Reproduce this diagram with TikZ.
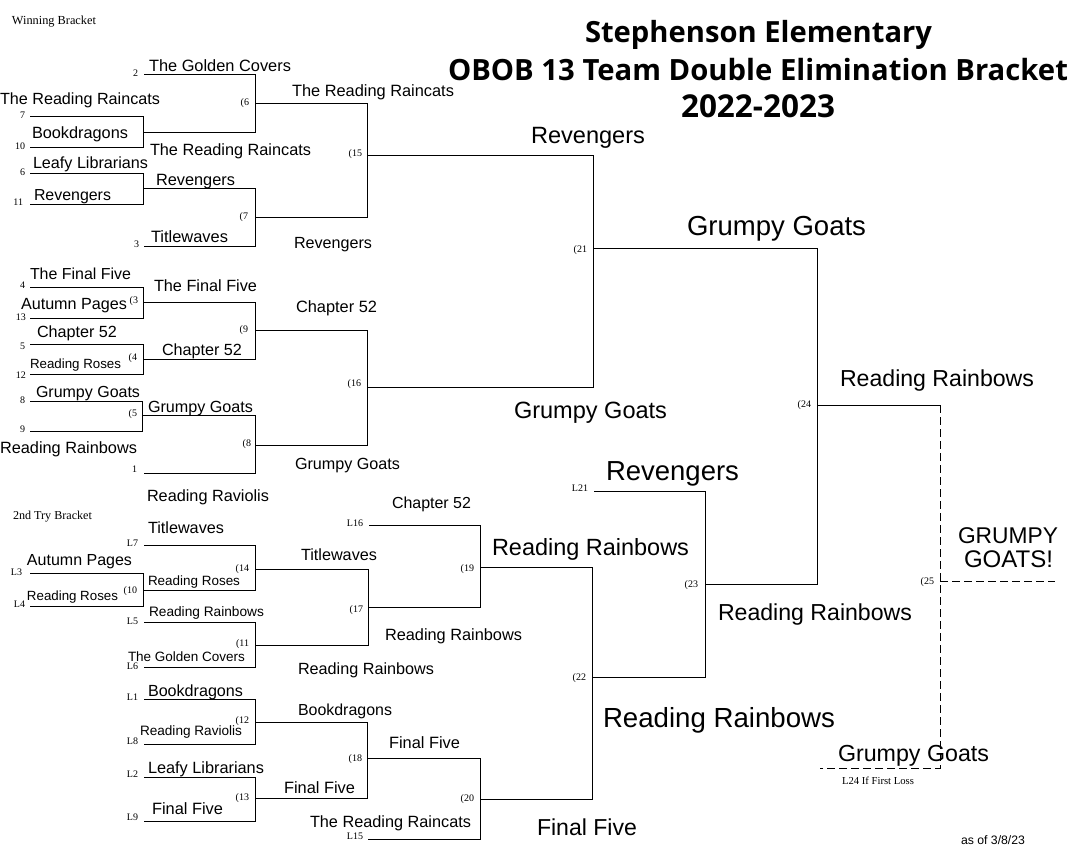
\documentclass[tikz,border=0pt]{standalone}
\usepackage{fontspec}
\setmainfont{Liberation Sans}
\newfontfamily\smallserif{Liberation Serif}
\newfontfamily\titlefam{Open Sans}
\newbox\lblbox
\newcounter{lblc}
\tikzset{
  wire/.style={line width=1pt,draw=black,line join=miter},
  dashwire/.style={line width=1pt,draw=black,dash pattern=on 8pt off 4pt},
  lab/.style={inner sep=0pt,outer sep=0pt,anchor=base west,text=black},
  seedlab/.style={inner sep=0pt,outer sep=0pt,anchor=base east,text=black,font=\smallserif\fontsize{10}{11}\selectfont},
}
% fitted label: [family]{left x}{right x}{baseline y}{text}
\newcommand\lbl[5][]{%
  \stepcounter{lblc}%
  \node[lab] (t\thelblc) at (#2,#4) {%
    \setbox\lblbox=\hbox{#1\fontsize{10}{12}\selectfont #5}%
    \pgfmathsetmacro\lblfs{10*(#3-#2)/\the\wd\lblbox}%
    #1\fontsize{\lblfs}{\lblfs}\selectfont #5};%
}
\newcommand\seed[3]{%
  \stepcounter{lblc}%
  \node[seedlab] (n\thelblc) at (#1,#2) {#3};%
}
\newcommand\joinm[3]{\draw[wire] (#1) -| (#3); \draw[wire] (#2) -| (#3);}
\begin{document}
\begin{tikzpicture}[x=1pt,y=-1pt]
\useasboundingbox (0,0) rectangle (1078,859);
% ---- leaves
\foreach \n/\x/\y in {s2/144/74,s7/30/116,s10/30/147,s6/30/173,s11/30/204,s3/144/246,
  s4/30/287,s13/30/318,s5/30/344,s12/30/374,s8/30/401,s9/30/431,s1/144/473,
  L7/144/545,L3/30/573,L4/30/606,L5/144/622,L6/144/667,L16/369/525,L21/594/491,
  L1/144/699,L8/144/744,L2/144/777,L9/144/821,L15/368/839,
  ma/143/132,mb/143/188,m6/255/103,m7/255/217,m15/367/155,
  m3/143/302,m4/143/359,m9/255/330,m5/142/415,m8/255/445,m16/367/387,m21/593/248,
  m10/143/590,m14/255/569,m11/255/645,m17/368/607,m19/480/567,
  m12/255/722,m13/255/798,m18/367/758,m20/480/799,m22/592/677,m23/705/584,m24/817/405,
  e24/940/405,m25/940/581,w25/1055/581,c25/940/768,f25/820/768}
  {\coordinate (\n) at (\x,\y);}
% ---- winners bracket
\joinm{s7}{s10}{ma}
\joinm{s2}{ma}{m6}
\joinm{s6}{s11}{mb}
\joinm{mb}{s3}{m7}
\joinm{m6}{m7}{m15}
\joinm{s4}{s13}{m3}
\joinm{s5}{s12}{m4}
\joinm{m3}{m4}{m9}
\joinm{s8}{s9}{m5}
\joinm{m5}{s1}{m8}
\joinm{m9}{m8}{m16}
\joinm{m15}{m16}{m21}
% ---- second try bracket
\joinm{L3}{L4}{m10}
\joinm{L7}{m10}{m14}
\joinm{L5}{L6}{m11}
\joinm{m14}{m11}{m17}
\joinm{L16}{m17}{m19}
\joinm{L1}{L8}{m12}
\joinm{L2}{L9}{m13}
\joinm{m12}{m13}{m18}
\joinm{m18}{L15}{m20}
\joinm{m19}{m20}{m22}
\joinm{L21}{m22}{m23}
\joinm{m21}{m23}{m24}
% ---- final
\draw[wire] (m24) -- (e24);
\draw[dashwire] (e24) -- (c25) -- (f25);
\draw[dashwire] (m25) -- (w25);
% ---- title
\lbl[\titlefam\bfseries]{585}{932}{42}{Stephenson Elementary}
\lbl[\titlefam\bfseries]{448}{1068}{80}{OBOB 13 Team Double Elimination Bracket}
\lbl[\titlefam\bfseries]{681}{835}{117}{2022-2023}
% ---- section titles
\lbl[\smallserif]{12}{96}{25}{Winning Bracket}
\lbl[\smallserif]{13}{92}{519}{2nd Try Bracket}
\lbl[\smallserif]{842}{914}{784}{L24 If First Loss}
\lbl{961}{1025}{844}{as of 3/8/23}
% ---- team labels, winners bracket
\lbl{149}{291}{71}{The Golden Covers}
\lbl{0}{160}{104}{The Reading Raincats}
\lbl{32}{128}{138}{Bookdragons}
\lbl{150}{311}{155}{The Reading Raincats}
\lbl{33}{148}{168}{Leafy Librarians}
\lbl{34}{111}{200}{Revengers}
\lbl{156}{235}{185}{Revengers}
\lbl{151}{228}{242}{Titlewaves}
\lbl{292}{454}{96}{The Reading Raincats}
\lbl{294}{372}{248}{Revengers}
\lbl{531}{645}{143}{Revengers}
\lbl{687}{866}{235}{Grumpy Goats}
\lbl{840}{1034}{386}{Reading Rainbows}
\lbl{514}{667}{418}{Grumpy Goats}
\lbl{30}{131}{279}{The Final Five}
\lbl{21}{127}{309}{Autumn Pages}
\lbl{154}{257}{291}{The Final Five}
\lbl{37}{117}{337}{Chapter 52}
\lbl{30}{121}{368}{Reading Roses}
\lbl{162}{242}{355}{Chapter 52}
\lbl{296}{377}{312}{Chapter 52}
\lbl{36}{140}{397}{Grumpy Goats}
\lbl{148}{253}{412}{Grumpy Goats}
\lbl{0}{137}{453}{Reading Rainbows}
\lbl{295}{400}{469}{Grumpy Goats}
\lbl{147}{269}{501}{Reading Raviolis}
% ---- team labels, second try bracket
\lbl{606}{739}{480}{Revengers}
\lbl{492}{689}{555}{Reading Rainbows}
\lbl{392}{471}{508}{Chapter 52}
\lbl{385}{522}{640}{Reading Rainbows}
\lbl{298}{434}{674}{Reading Rainbows}
\lbl{718}{912}{620}{Reading Rainbows}
\lbl{603}{835}{727}{Reading Rainbows}
\lbl{537}{637}{835}{Final Five}
\lbl{148}{224}{533}{Titlewaves}
\lbl{27}{132}{565}{Autumn Pages}
\lbl{148}{240}{585}{Reading Roses}
\lbl{27}{118}{600}{Reading Roses}
\lbl{149}{264}{616}{Reading Rainbows}
\lbl{128}{245}{661}{The Golden Covers}
\lbl{301}{377}{560}{Titlewaves}
\lbl{148}{243}{696}{Bookdragons}
\lbl{140}{242}{735}{Reading Raviolis}
\lbl{298}{392}{715}{Bookdragons}
\lbl{389}{460}{748}{Final Five}
\lbl{148}{264}{773}{Leafy Librarians}
\lbl{284}{355}{793}{Final Five}
\lbl{152}{223}{814}{Final Five}
\lbl{310}{471}{827}{The Reading Raincats}
\lbl{958}{1058}{543}{GRUMPY}
\lbl{964}{1053}{567}{GOATS!}
\lbl{838}{989}{761}{Grumpy Goats}
% ---- seeds and match numbers
\seed{138}{76}{2}\seed{25}{118}{7}\seed{25}{149}{10}\seed{25}{175}{6}\seed{23}{205}{11}\seed{139}{247}{3}
\seed{25}{288}{4}\seed{26}{320}{13}\seed{25}{349}{5}\seed{26}{378}{12}\seed{25}{403}{8}\seed{25}{432}{9}\seed{137}{472}{1}
\seed{249}{105}{(6}\seed{248}{219}{(7}\seed{362}{156}{(15}
\seed{138}{303}{(3}\seed{137}{360}{(4}\seed{137}{416}{(5}\seed{248}{332}{(9}\seed{251}{446}{(8}\seed{361}{386}{(16}
\seed{587}{252}{(21}\seed{811}{407}{(24}\seed{934}{584}{(25}\seed{698}{587}{(23}\seed{586}{680}{(22}
\seed{474}{571}{(19}\seed{363}{612}{(17}\seed{363}{526}{L16}\seed{588}{491}{L21}
\seed{138}{546}{L7}\seed{22}{575}{L3}\seed{25}{607}{L4}\seed{138}{624}{L5}\seed{138}{669}{L6}
\seed{249}{571}{(14}\seed{137}{593}{(10}\seed{249}{646}{(11}
\seed{138}{700}{L1}\seed{138}{744}{L8}\seed{138}{777}{L2}\seed{138}{820}{L9}\seed{363}{839}{L15}
\seed{249}{723}{(12}\seed{249}{800}{(13}\seed{362}{761}{(18}\seed{474}{801}{(20}
\end{tikzpicture}
\end{document}
